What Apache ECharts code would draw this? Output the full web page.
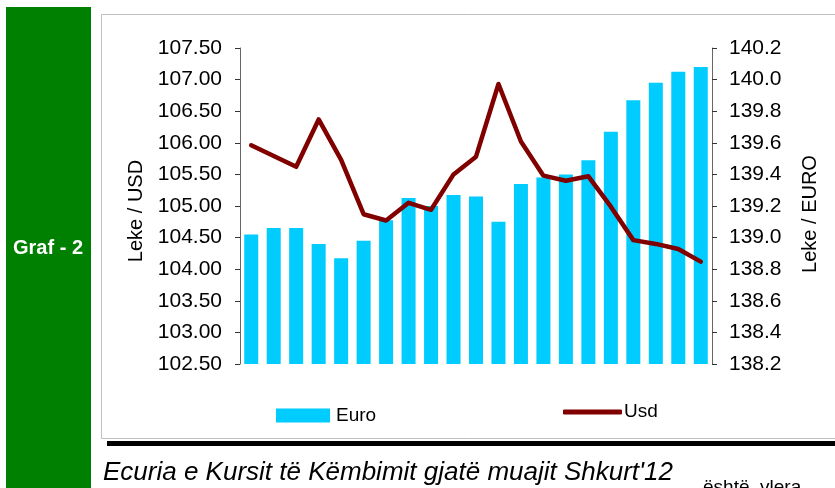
<!DOCTYPE html>
<html>
<head>
<meta charset="utf-8">
<script src="https://cdn.jsdelivr.net/npm/echarts@6/dist/echarts.min.js"></script>
<style>
html,body{margin:0;padding:0;background:#fff;}
#c{width:835px;height:488px;}
</style>
</head>
<body>
<div id="c"></div>
<script>
var categories = ['01.02','02.02','03.02','06.02','07.02','08.02','09.02','10.02','13.02','14.02','15.02','16.02','17.02','20.02','21.02','22.02','23.02','24.02','27.02','28.02','29.02'];
var euroValues = [139.02,139.06,139.06,138.96,138.87,138.98,139.11,139.25,139.20,139.27,139.26,139.10,139.34,139.38,139.40,139.49,139.67,139.87,139.98,140.05,140.08];
var usdValues = [105.96,105.79,105.62,106.37,105.73,104.87,104.77,105.05,104.94,105.50,105.78,106.93,106.02,105.48,105.40,105.47,104.99,104.46,104.40,104.32,104.12];
var leftAxisName = 'Leke / USD';
var rightAxisName = 'Leke / EURO';
var sideLabel = 'Graf - 2';
var captionText = "Ecuria e Kursit të Këmbimit gjatë muajit Shkurt'12";
var sideText = 'është  vlera';

var FONT = '"Liberation Sans", Arial, sans-serif';
var chart = echarts.init(document.getElementById('c'), null, {renderer:'canvas'});
chart.setOption({
  animation: false,
  backgroundColor: '#ffffff',
  graphic: [
    {type:'rect', z:-10, shape:{x:6,y:7,width:85,height:490}, style:{fill:'#008000'}},
    {type:'rect', z:-10, shape:{x:101.5,y:14.5,width:800,height:424}, style:{fill:'#ffffff',stroke:'#c0c0c0',lineWidth:1}},
    {type:'rect', z:-10, shape:{x:107,y:441,width:740,height:5}, style:{fill:'#000000'}},
    {type:'text', z:5, x:48, y:248, style:{text:sideLabel, fill:'#ffffff', font:'bold 20px '+FONT, textAlign:'center', textVerticalAlign:'middle'}},
    {type:'text', z:5, x:136, y:211, rotation:Math.PI/2, style:{text:leftAxisName, fill:'#000', font:'20px '+FONT, textAlign:'center', textVerticalAlign:'middle'}},
    {type:'text', z:5, x:810, y:214, rotation:Math.PI/2, style:{text:rightAxisName, fill:'#000', font:'20px '+FONT, textAlign:'center', textVerticalAlign:'middle'}},
    {type:'text', z:5, x:103, y:486, style:{text:captionText, fill:'#000', font:'italic 26px '+FONT, textAlign:'left', textVerticalAlign:'bottom'}},
    {type:'text', z:5, x:703, y:478, style:{text:sideText, fill:'#000', font:'19px '+FONT, textAlign:'left', textVerticalAlign:'top'}}
  ],
  legend: [
    {data:['Euro'], left:276, top:406, padding:0, itemWidth:54, itemHeight:14, icon:'rect',
     textStyle:{fontSize:19, fontFamily:FONT, color:'#000', padding:[0,0,0,1]}},
    {data:[{name:'Usd', icon:'roundRect'}], left:563, top:402.5, padding:0, itemWidth:59, itemHeight:5,
     itemStyle:{color:'#800000'},
     textStyle:{fontSize:19, fontFamily:FONT, color:'#000', padding:[0,0,0,-3]}}
  ],
  grid: {left:240, top:48, width:472, height:316, containLabel:false},
  xAxis: {type:'category', data:categories, boundaryGap:true,
    axisLine:{show:false}, axisTick:{show:false}, axisLabel:{show:false}, splitLine:{show:false}},
  yAxis: [
    {type:'value', position:'left', min:102.5, max:107.5, interval:0.5,
     axisLine:{show:true, lineStyle:{color:'#666', width:1}},
     axisTick:{show:true, inside:false, length:5, lineStyle:{color:'#333'}},
     axisLabel:{margin:18, fontSize:21, fontFamily:FONT, color:'#000', formatter:function(v){return v.toFixed(2);}},
     splitLine:{show:false}},
    {type:'value', position:'right', min:138.2, max:140.2, interval:0.2,
     axisLine:{show:true, lineStyle:{color:'#666', width:1}},
     axisTick:{show:true, inside:false, length:5, lineStyle:{color:'#333'}},
     axisLabel:{margin:17, fontSize:21, fontFamily:FONT, color:'#000', formatter:function(v){return v.toFixed(1);}},
     splitLine:{show:false}}
  ],
  series: [
    {name:'Euro', type:'bar', yAxisIndex:1, data:euroValues, barWidth:14,
     itemStyle:{color:'#00CCFF'}, clip:true, z:2},
    {name:'Usd', type:'line', yAxisIndex:0, data:usdValues, symbol:'none', showSymbol:false,
     lineStyle:{color:'#800000', width:4.5, cap:'round', join:'round'}, itemStyle:{color:'#800000'}, z:3}
  ]
});
</script>
</body>
</html>
